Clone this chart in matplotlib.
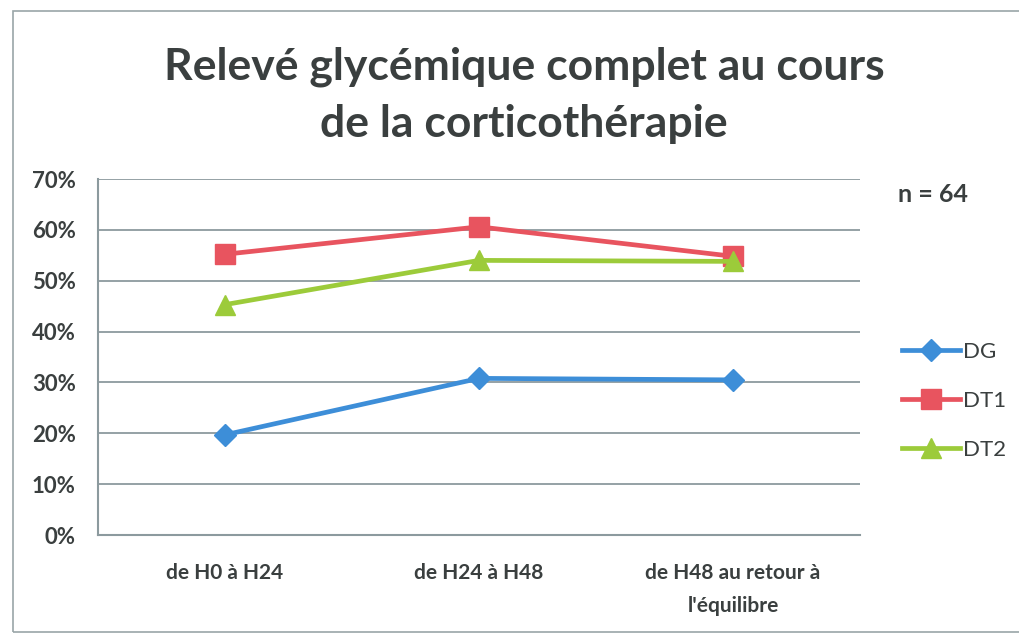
import matplotlib
matplotlib.use("Agg")
import matplotlib.pyplot as plt
from matplotlib.patches import Rectangle
from matplotlib.ticker import PercentFormatter

categories = ["de H0 à H24", "de H24 à H48", "de H48 au retour à\nl'équilibre"]
series_names = ["DG", "DT1", "DT2"]
dg = [19.7, 30.8, 30.5]
dt1 = [55.2, 60.6, 54.8]
dt2 = [45.3, 54.0, 53.8]
y_ticks = [0, 10, 20, 30, 40, 50, 60, 70]
title = "Relevé glycémique complet au cours\nde la corticothérapie"
note = "n = 64"

plt.rcParams['font.family'] = ['Lato', 'DejaVu Sans']
text_color = '#3a3f3f'
grid_color = '#8c9a9e'

W, H = 1020, 634
fig = plt.figure(figsize=(W / 100, H / 100), dpi=100)
fig.patch.set_facecolor('white')

# outer chart border
fig.add_artist(Rectangle((13 / W, 1 - 632 / H), 1.2, (632 - 11) / H,
                         transform=fig.transFigure, fill=False,
                         edgecolor='#9aa6a8', linewidth=1.2))

ax = fig.add_axes([98 / W, 1 - 535 / H, (860 - 98) / W, (535 - 179) / H])
x = list(range(len(categories)))

colors = ['#3d8ed8', '#e8545f', '#9ccb3a']
markers = ['D', 's', '^']
msizes = [11, 14, 14]
for vals, name, c, m, ms in zip([dg, dt1, dt2], series_names, colors, markers, msizes):
    ax.plot(x, vals, color=c, linewidth=3.4, marker=m, markersize=ms,
            markeredgecolor=c, label=name, zorder=3)

ax.set_xlim(-0.5, len(categories) - 0.5)
ax.set_ylim(0, 70)
ax.set_yticks(y_ticks)
ax.yaxis.set_major_formatter(PercentFormatter(decimals=0))
ax.set_xticks(x)
ax.set_xticklabels(categories, fontsize=15, color=text_color, linespacing=1.8,
                   fontweight='bold')
ax.tick_params(axis='x', length=0, pad=20)
ax.tick_params(axis='y', length=0, pad=16, labelsize=16, labelcolor=text_color)
for lab in ax.get_yticklabels():
    lab.set_fontweight('bold')
for lab in ax.get_xticklabels():
    lab.set_verticalalignment('top')
ax.grid(axis='y', color=grid_color, linewidth=1.3)
ax.set_axisbelow(True)
for s in ['top', 'right']:
    ax.spines[s].set_visible(False)
for s in ['left', 'bottom']:
    ax.spines[s].set_color(grid_color)
    ax.spines[s].set_linewidth(1.5)

fig.text(524 / W, 1 - 95 / H, title, ha='center', va='center', fontsize=32,
         fontweight='bold', color=text_color, linespacing=1.5)
fig.text(933 / W, 1 - 195 / H, note, ha='center', va='center', fontsize=18,
         fontweight='bold', color=text_color)

leg = fig.legend(loc='upper left', bbox_to_anchor=(882 / W, 1 - 322 / H),
                 frameon=False, fontsize=16, handlelength=2.6,
                 handletextpad=0.15, labelspacing=1.3, labelcolor=text_color)

fig.savefig('out.png', dpi=100, facecolor='white')
